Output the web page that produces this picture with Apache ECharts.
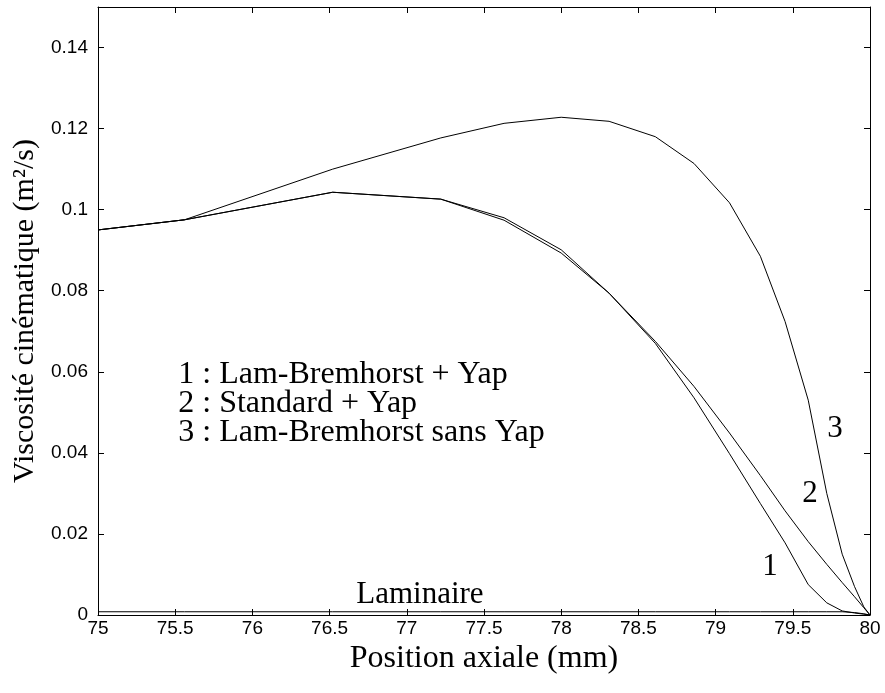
<!DOCTYPE html>
<html>
<head>
<meta charset="utf-8">
<script src="https://cdn.jsdelivr.net/npm/echarts@6/dist/echarts.min.js"></script>
<style>
html,body{margin:0;padding:0;background:#fff;}
#chart{width:885px;height:693px;}
</style>
</head>
<body>
<div id="chart"></div>
<script>
// Axial positions (mm)
const xs = [75, 75.56, 76.52, 77.22, 77.63, 78.0, 78.31, 78.61, 78.86, 79.09, 79.29, 79.45, 79.6, 79.72, 79.82, 79.9, 79.96, 80];
// 1 : Lam-Bremhorst + Yap
const curve1 = [0.0950, 0.0975, 0.1043, 0.1026, 0.0974, 0.0893, 0.0794, 0.0670, 0.0536, 0.0398, 0.0275, 0.0178, 0.0075, 0.0030, 0.0010, 0.0005, 0.0002, 0];
// 2 : Standard + Yap
const curve2 = [0.0950, 0.0975, 0.1043, 0.1026, 0.0980, 0.0901, 0.0794, 0.0675, 0.0564, 0.0449, 0.0344, 0.0257, 0.0181, 0.0125, 0.0080, 0.0045, 0.0018, 0];
// 3 : Lam-Bremhorst sans Yap
const curve3 = [0.0950, 0.0975, 0.1100, 0.1177, 0.1213, 0.1228, 0.1218, 0.1180, 0.1114, 0.1017, 0.0885, 0.0724, 0.0530, 0.0300, 0.0150, 0.0070, 0.0020, 0];
// Laminaire
const laminaire = [0.0008, 0.0008, 0.0008, 0.0008, 0.0008, 0.0008, 0.0008, 0.0008, 0.0008, 0.0008, 0.0008, 0.0008, 0.0008, 0.0008, 0.0008, 0.0006, 0.0003, 0];

// Annotations (data coordinates)
const annotX = [79.353, 79.611, 79.773, 77.085];
const annotY = [0.0118, 0.0300, 0.0458, 0.0050];
const annotText = ['1', '2', '3', 'Laminaire'];

const legendX = 75.52;
const legendY = [0.0593, 0.0521, 0.0449];
const legendText = ['1 : Lam-Bremhorst + Yap', '2 : Standard + Yap', '3 : Lam-Bremhorst sans Yap'];

const xTitle = 'Position axiale (mm)';
const yTitle = 'Viscosité cinématique (m²/s)';

const serif = '"Liberation Serif", "Times New Roman", serif';
const sans = '"Liberation Sans", Arial, sans-serif';

const pairs = (ys) => xs.map((x, i) => [x, ys[i]]);
const lineSeries = (name, ys) => ({
  name, type: 'line', data: pairs(ys), showSymbol: false, symbol: 'none',
  lineStyle: { color: '#000', width: 1 }, silent: true, animation: false, z: 3
});

const chart = echarts.init(document.getElementById('chart'), null, { renderer: 'canvas' });
chart.setOption({
  animation: false,
  backgroundColor: '#fff',
  grid: { left: 98, right: 15, top: 7, bottom: 78, containLabel: false },
  xAxis: [{
    type: 'value', min: 75, max: 80, interval: 0.5, position: 'bottom',
    name: xTitle, nameLocation: 'middle', nameGap: 25,
    nameTextStyle: { fontFamily: serif, fontSize: 32, color: '#000' },
    axisLine: { show: true, onZero: false, lineStyle: { color: '#000', width: 1 } },
    axisTick: { show: true, inside: true, length: 6, lineStyle: { color: '#000' } },
    axisLabel: { show: true, fontFamily: sans, fontSize: 19, color: '#000', margin: 4 },
    splitLine: { show: false }
  }, {
    type: 'value', min: 75, max: 80, interval: 0.5, position: 'top',
    axisLine: { show: true, onZero: false, lineStyle: { color: '#000', width: 1 } },
    axisTick: { show: true, inside: true, length: 6, lineStyle: { color: '#000' } },
    axisLabel: { show: false }, splitLine: { show: false }
  }],
  yAxis: [{
    type: 'value', min: 0, max: 0.15, interval: 0.02, position: 'left',
    name: yTitle, nameLocation: 'middle', nameGap: 51, nameRotate: 90,
    nameTextStyle: { fontFamily: serif, fontSize: 30, color: '#000' },
    axisLine: { show: true, onZero: false, lineStyle: { color: '#000', width: 1 } },
    axisTick: { show: true, inside: true, length: 6, lineStyle: { color: '#000' } },
    axisLabel: { show: true, fontFamily: sans, fontSize: 19, color: '#000', margin: 10, showMaxLabel: false },
    splitLine: { show: false }
  }, {
    type: 'value', min: 0, max: 0.15, interval: 0.02, position: 'right',
    axisLine: { show: true, onZero: false, lineStyle: { color: '#000', width: 1 } },
    axisTick: { show: true, inside: true, length: 6, lineStyle: { color: '#000' } },
    axisLabel: { show: false }, splitLine: { show: false }
  }],
  series: [
    lineSeries('1 : Lam-Bremhorst + Yap', curve1),
    lineSeries('2 : Standard + Yap', curve2),
    lineSeries('3 : Lam-Bremhorst sans Yap', curve3),
    lineSeries('Laminaire', laminaire),
    {
      name: 'annotations', type: 'scatter', symbolSize: 0, silent: true,
      itemStyle: { opacity: 1, color: '#000' },
      data: annotX.map((x, i) => ({ value: [x, annotY[i]], name: annotText[i] })),
      label: { show: true, position: 'inside', formatter: p => p.name, opacity: 1,
        fontFamily: serif, fontSize: 31, color: '#000' }
    },
    {
      name: 'legendText', type: 'scatter', symbolSize: 0, silent: true,
      itemStyle: { opacity: 1, color: '#000' },
      data: legendY.map((y, i) => ({ value: [legendX, y], name: legendText[i] })),
      label: { show: true, position: 'right', distance: 0, align: 'left', verticalAlign: 'middle', opacity: 1,
        formatter: p => p.name, fontFamily: serif, fontSize: 32, color: '#000' }
    }
  ]
});
</script>
</body>
</html>
